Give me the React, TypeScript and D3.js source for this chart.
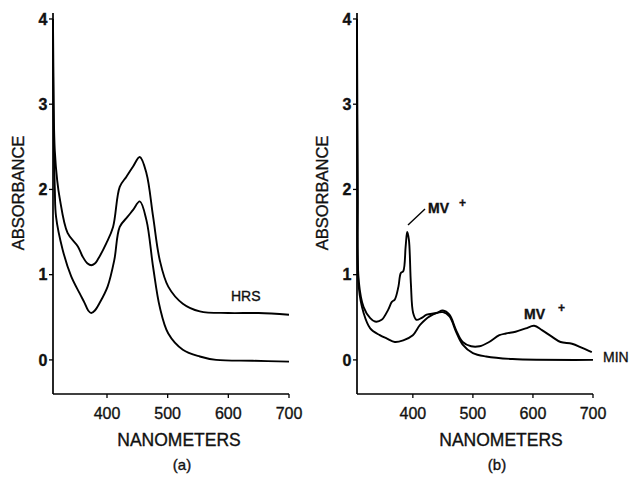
import React from 'react';
import * as d3 from 'd3';

// panel (a)
const hrsNm = [311, 312, 314, 318, 322, 335, 352, 360, 368, 374, 380, 385, 399, 410, 421, 432, 443, 454, 465, 476, 487, 501, 525, 553, 600, 650, 700];
const hrsAbs = [4.0, 3.0, 2.45, 2.1, 1.9, 1.49, 1.33, 1.21, 1.13, 1.11, 1.13, 1.18, 1.37, 1.56, 2.03, 2.15, 2.27, 2.38, 2.19, 1.68, 1.17, 0.86, 0.66, 0.57, 0.55, 0.55, 0.53];
const lowNm = [311, 312, 314, 316, 327, 341, 355, 363, 369, 374, 380, 388, 401, 412, 421, 434, 443, 454, 465, 476, 487, 501, 525, 553, 580, 640, 700];
const lowAbs = [4.0, 2.8, 2.0, 1.68, 1.29, 0.98, 0.78, 0.67, 0.58, 0.55, 0.58, 0.67, 0.86, 1.17, 1.56, 1.68, 1.76, 1.86, 1.64, 1.09, 0.62, 0.31, 0.12, 0.04, 0.0, -0.01, -0.02];

// panel (b)
const mvNm = [307, 308, 310, 318, 329, 337, 348, 359, 365, 370, 376, 380, 384, 388, 390.6, 393.4, 396.7, 400.5, 406, 414, 423, 439, 450, 461, 472, 483, 497, 511, 527, 544, 555, 571, 588, 602, 615, 632, 646, 665, 682, 698];
const mvAbs = [4.0, 2.0, 0.92, 0.62, 0.49, 0.45, 0.47, 0.59, 0.68, 0.71, 0.86, 1.02, 1.04, 1.33, 1.5, 1.41, 0.9, 0.55, 0.47, 0.49, 0.53, 0.55, 0.58, 0.53, 0.35, 0.21, 0.16, 0.16, 0.21, 0.29, 0.31, 0.33, 0.37, 0.4, 0.35, 0.27, 0.21, 0.19, 0.14, 0.09];
const minNm = [307, 308, 310, 318, 329, 345, 357, 370, 384, 400, 412, 428, 450, 461, 472, 483, 500, 522, 566, 700];
const minAbs = [4.0, 2.0, 0.85, 0.55, 0.37, 0.29, 0.25, 0.21, 0.23, 0.29, 0.41, 0.51, 0.56, 0.51, 0.33, 0.18, 0.08, 0.04, 0.01, 0.0];

const xTicks = [400, 500, 600, 700];
const yTicks = [0, 1, 2, 3, 4];

const font = 'Arial, "Liberation Sans", Helvetica, sans-serif';
// thin outline so the text reads as heavy as the scanned print
const ink = { fill: '#111', stroke: '#111', strokeWidth: 0.35, fontFamily: font };

type Curve = { nm: number[]; abs: number[] };

const Panel = ({ left, xMin, curves, tag, tagX, titleX }: { left: number; xMin: number; curves: Curve[]; tag: string; tagX: number; titleX: number }) => {
  const x = d3.scaleLinear().domain([xMin, 700]).range([left, left + 236]);
  const y = d3.scaleLinear().domain([-0.4, 4.07]).range([394, 13]);
  const line = d3.line<[number, number]>()
    .x(d => x(d[0]))
    .y(d => y(d[1]))
    .curve(d3.curveCatmullRom.alpha(0.5));

  return (
    <g>
      <line x1={left} x2={left} y1={y(4.07)} y2={y(-0.4)} stroke="#000" strokeWidth={1.7} />
      <line x1={left} x2={x(700)} y1={y(-0.4)} y2={y(-0.4)} stroke="#000" strokeWidth={1.7} />
      {yTicks.map(t => (
        <g key={t}>
          <line x1={left - 4} x2={left} y1={y(t)} y2={y(t)} stroke="#000" strokeWidth={1.3} />
          <text x={left - 10} y={y(t)} dy="0.36em" textAnchor="middle" fontSize={16} fontWeight="bold" {...ink}>{t}</text>
        </g>
      ))}
      {xTicks.map(t => (
        <g key={t}>
          <line x1={x(t)} x2={x(t)} y1={y(-0.4)} y2={y(-0.4) + 4} stroke="#000" strokeWidth={1.3} />
          <text x={x(t)} y={419} textAnchor="middle" fontSize={16} {...ink}>{t}</text>
        </g>
      ))}
      {curves.map((c, i) => (
        <path key={i} d={line(c.nm.map((n, j) => [n, c.abs[j]] as [number, number])) || ''} fill="none" stroke="#000" strokeWidth={1.9} />
      ))}
      <text x={titleX} y={446} textAnchor="middle" fontSize={17.5} {...ink}>NANOMETERS</text>
      <text transform={`translate(${left - 35},193) rotate(-90)`} textAnchor="middle" dy="0.36em" fontSize={16.5} {...ink}>ABSORBANCE</text>
      <text x={tagX} y={470} textAnchor="middle" fontSize={15} {...ink}>{tag}</text>
    </g>
  );
};

export default function App() {
  return (
    <div style={{ position: 'fixed', left: 0, top: 0 }}>
      <svg width={631} height={479} style={{ display: 'block', background: '#fff' }}>
        <Panel left={53} xMin={311} curves={[{ nm: hrsNm, abs: hrsAbs }, { nm: lowNm, abs: lowAbs }]} tag="(a)" tagX={182} titleX={179} />
        <Panel left={357} xMin={307} curves={[{ nm: mvNm, abs: mvAbs }, { nm: minNm, abs: minAbs }]} tag="(b)" tagX={497} titleX={501} />
        <text x={231} y={301} fontSize={14} {...ink}>HRS</text>
        <line x1={408} y1={225} x2={425} y2={209} stroke="#000" strokeWidth={1.4} />
        <text x={428} y={213} fontSize={14} fontWeight="bold" {...ink}>MV</text>
        <text x={459} y={207} fontSize={12} fontWeight="bold" {...ink}>+</text>
        <text x={524} y={319} fontSize={14} fontWeight="bold" {...ink}>MV</text>
        <text x={558} y={312} fontSize={12} fontWeight="bold" {...ink}>+</text>
        <text x={603} y={362} fontSize={14} {...ink}>MIN</text>
      </svg>
    </div>
  );
}
